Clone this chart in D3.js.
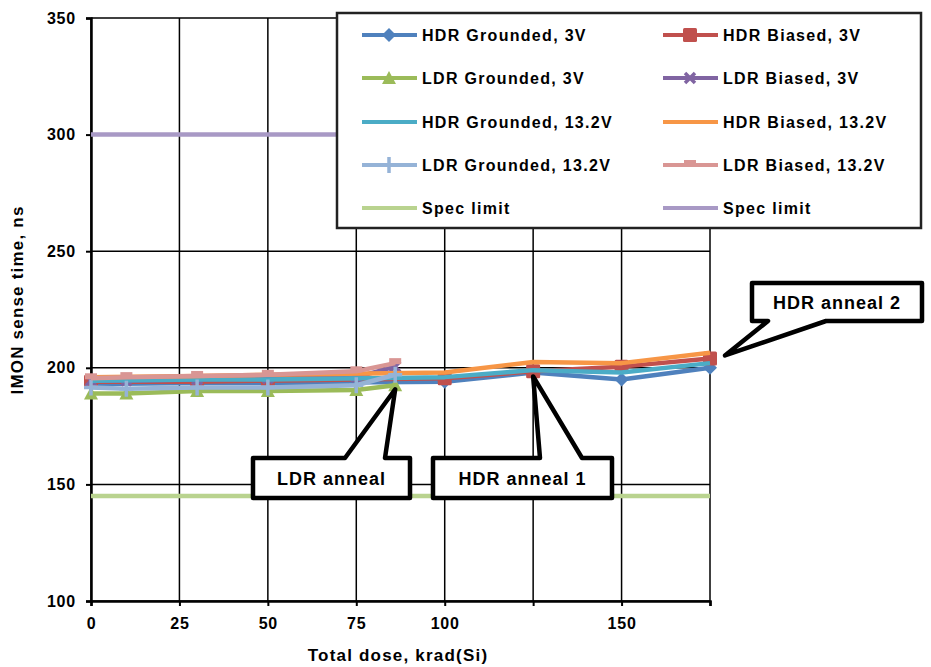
<!DOCTYPE html>
<html>
<head>
<meta charset="utf-8">
<script src="https://cdn.jsdelivr.net/npm/d3@7"></script>
<style>
  body { margin: 0; background: #fff; }
  svg { font-family: "Liberation Sans", Arial, sans-serif; font-weight: bold; }
</style>
</head>
<body>
<script>
// Data ---------------------------------------------------------------------
var ldrDose = [0, 10, 30, 50, 75, 86];
var hdrDose = [0, 30, 50, 100, 125, 150, 175];
var specDose = [0, 175];

var hdrGrounded3 = [193, 193.5, 193.5, 194, 198, 195, 200];
var hdrBiased3 = [194, 194, 194.5, 195.5, 198.5, 200.5, 204];
var ldrGrounded3 = [189, 189, 190, 190, 190.5, 192.5];
var ldrBiased3 = [194.5, 194.5, 195, 195.5, 196, 200.5];
var hdrGrounded13 = [194.5, 195, 195, 196, 199, 198, 202];
var hdrBiased13 = [196, 196.5, 197, 198, 202.5, 202, 206.5];
var ldrGrounded13 = [191.5, 191, 191.5, 191.5, 192.5, 197];
var ldrBiased13 = [195.5, 196, 196.5, 197, 198.5, 202];
var specLow = [145, 145];
var specHigh = [300, 300];

var xTickLabels = ["0", "25", "50", "75", "100", "", "150", ""];
var yTicks = [100, 150, 200, 250, 300, 350];

var series = [
  {name: "HDR Grounded, 3V", x: hdrDose, y: hdrGrounded3, color: "#4F81BD", marker: "diamond"},
  {name: "HDR Biased, 3V", x: hdrDose, y: hdrBiased3, color: "#C0504D", marker: "square"},
  {name: "LDR Grounded, 3V", x: ldrDose, y: ldrGrounded3, color: "#9BBB59", marker: "triangle"},
  {name: "LDR Biased, 3V", x: ldrDose, y: ldrBiased3, color: "#8064A2", marker: "x"},
  {name: "HDR Grounded, 13.2V", x: hdrDose, y: hdrGrounded13, color: "#4BACC6", marker: "none"},
  {name: "HDR Biased, 13.2V", x: hdrDose, y: hdrBiased13, color: "#F79646", marker: "none"},
  {name: "LDR Grounded, 13.2V", x: ldrDose, y: ldrGrounded13, color: "#95B3D7", marker: "plus"},
  {name: "LDR Biased, 13.2V", x: ldrDose, y: ldrBiased13, color: "#D99694", marker: "dash"},
  {name: "Spec limit", x: specDose, y: specLow, color: "#B9D38F", marker: "none"},
  {name: "Spec limit", x: specDose, y: specHigh, color: "#A899C5", marker: "none"}
];

// Layout -------------------------------------------------------------------
var width = 931, height = 667;
var plotLeft = 91, plotRight = 710, plotTop = 18, plotBottom = 601;

var svg = d3.select("body").append("svg")
  .attr("width", width)
  .attr("height", height);

var x = d3.scaleLinear().domain([0, 175]).range([plotLeft, plotRight]);
var y = d3.scaleLinear().domain([100, 350]).range([plotBottom, plotTop]);

// Gridlines
svg.append("g")
  .selectAll("line")
  .data(d3.range(0, 176, 25))
  .enter().append("line")
  .attr("x1", function(d) { return x(d); })
  .attr("x2", function(d) { return x(d); })
  .attr("y1", y(350))
  .attr("y2", y(100))
  .attr("stroke", "#000")
  .attr("stroke-width", 1.5);

svg.append("g")
  .selectAll("line")
  .data(yTicks)
  .enter().append("line")
  .attr("x1", x(0))
  .attr("x2", x(175))
  .attr("y1", function(d) { return y(d); })
  .attr("y2", function(d) { return y(d); })
  .attr("stroke", "#000")
  .attr("stroke-width", 1.5);

// Axes
var yAxis = d3.axisLeft(y).tickValues(yTicks).tickSize(5).tickPadding(10);
var gy = svg.append("g").attr("transform", "translate(" + plotLeft + ",0)").call(yAxis);
gy.select(".domain").attr("stroke-width", 2.5);
gy.selectAll("line").attr("stroke-width", 2);
gy.selectAll("text").style("font-size", "16px").style("font-weight", "bold")
  .style("letter-spacing", "0.8px")
  .style("font-family", "Liberation Sans, Arial, sans-serif").attr("fill", "#000");

var xAxis = d3.axisBottom(x).tickValues(d3.range(0, 176, 25))
  .tickFormat(function(d, i) { return xTickLabels[i]; })
  .tickSize(5).tickPadding(12);
var gx = svg.append("g").attr("transform", "translate(0," + plotBottom + ")").call(xAxis);
gx.select(".domain").attr("stroke-width", 2.5);
gx.selectAll("line").attr("stroke-width", 2);
gx.selectAll("text").style("font-size", "16px").style("font-weight", "bold")
  .style("letter-spacing", "0.8px")
  .style("font-family", "Liberation Sans, Arial, sans-serif").attr("fill", "#000");

svg.append("text")
  .attr("x", 398)
  .attr("y", 661)
  .attr("text-anchor", "middle")
  .style("font-size", "17px")
  .style("letter-spacing", "1.2px")
  .text("Total dose, krad(Si)");

svg.append("text")
  .attr("transform", "translate(23,300) rotate(-90)")
  .attr("text-anchor", "middle")
  .style("font-size", "17px")
  .style("letter-spacing", "1.2px")
  .text("IMON sense time, ns");

// Series -------------------------------------------------------------------
var line = d3.line()
  .x(function(d) { return x(d[0]); })
  .y(function(d) { return y(d[1]); });

function drawMarker(g, type, color, cx, cy) {
  if (type === "diamond") {
    g.append("path").attr("d", "M" + cx + "," + (cy - 7) + "L" + (cx + 7) + "," + cy +
      "L" + cx + "," + (cy + 7) + "L" + (cx - 7) + "," + cy + "Z").attr("fill", color);
  } else if (type === "square") {
    g.append("rect").attr("x", cx - 7).attr("y", cy - 7).attr("width", 14).attr("height", 14)
      .attr("rx", 1.5).attr("fill", color);
  } else if (type === "triangle") {
    g.append("path").attr("d", "M" + cx + "," + (cy - 7) + "L" + (cx + 7) + "," + (cy + 6) +
      "L" + (cx - 7) + "," + (cy + 6) + "Z").attr("fill", color);
  } else if (type === "x") {
    g.append("path").attr("d", "M" + (cx - 5) + "," + (cy - 5) + "L" + (cx + 5) + "," + (cy + 5) +
      "M" + (cx + 5) + "," + (cy - 5) + "L" + (cx - 5) + "," + (cy + 5))
      .attr("stroke", color).attr("stroke-width", 3.5);
  } else if (type === "plus") {
    g.append("path").attr("d", "M" + (cx - 7) + "," + cy + "L" + (cx + 7) + "," + cy +
      "M" + cx + "," + (cy - 8) + "L" + cx + "," + (cy + 8))
      .attr("stroke", color).attr("stroke-width", 3.5);
  } else if (type === "dash") {
    g.append("rect").attr("x", cx - 6).attr("y", cy - 5).attr("width", 12).attr("height", 6)
      .attr("fill", color);
  }
}

series.forEach(function(s) {
  var pts = s.x.map(function(d, i) { return [d, s.y[i]]; });
  var g = svg.append("g");
  g.append("path")
    .datum(pts)
    .attr("d", line)
    .attr("fill", "none")
    .attr("stroke", s.color)
    .attr("stroke-width", 4.5)
    .attr("stroke-linejoin", "round");
  pts.forEach(function(p) {
    drawMarker(g, s.marker, s.color, x(p[0]), y(p[1]));
  });
});

// Callouts -----------------------------------------------------------------
var callouts = [
  {text: "LDR anneal", x0: 253, y0: 458, w: 157, h: 40, tip: [ldrDose[5], ldrGrounded3[5]], b1: 345, b2: 385, side: "top"},
  {text: "HDR anneal 1", x0: 433, y0: 458, w: 179, h: 40, tip: [hdrDose[4], hdrGrounded3[4]], b1: 540, b2: 582, side: "top"},
  {text: "HDR anneal 2", x0: 752, y0: 283, w: 170, h: 38, tip: [hdrDose[6], hdrBiased3[6]], b1: 768, b2: 826, side: "bottom"}
];

callouts.forEach(function(c) {
  var x1 = c.x0, x2 = c.x0 + c.w, y1 = c.y0, y2 = c.y0 + c.h;
  var tx = x(c.tip[0]) + (c.side === "bottom" ? 15 : 0), ty = y(c.tip[1]) + (c.side === "bottom" ? -3 : 4);
  var d;
  if (c.side === "top") {
    d = "M" + x1 + "," + y1 + "L" + c.b1 + "," + y1 + "L" + tx + "," + ty + "L" + c.b2 + "," + y1 +
      "L" + x2 + "," + y1 + "L" + x2 + "," + y2 + "L" + x1 + "," + y2 + "Z";
  } else {
    d = "M" + x1 + "," + y1 + "L" + x2 + "," + y1 + "L" + x2 + "," + y2 + "L" + c.b2 + "," + y2 +
      "L" + tx + "," + ty + "L" + c.b1 + "," + y2 + "L" + x1 + "," + y2 + "Z";
  }
  svg.append("path")
    .attr("d", d)
    .attr("fill", "#fff")
    .attr("stroke", "#000")
    .attr("stroke-width", 4.5)
    .attr("stroke-linejoin", "round");
  svg.append("text")
    .attr("x", x1 + c.w / 2)
    .attr("y", y1 + c.h / 2 + 7)
    .attr("text-anchor", "middle")
    .style("font-size", "18px")
    .style("letter-spacing", "1px")
    .text(c.text);
});

// Legend -------------------------------------------------------------------
var legend = svg.append("g");
legend.append("rect")
  .attr("x", 337).attr("y", 13).attr("width", 584).attr("height", 215)
  .attr("fill", "#fff")
  .attr("stroke", "#222")
  .attr("stroke-width", 2.5);

var rowY = [35, 78, 122, 165, 208];
var colX = [362, 663];

series.forEach(function(s, i) {
  var col = i % 2, row = Math.floor(i / 2);
  var lx = colX[col], ly = rowY[row];
  var g = legend.append("g");
  g.append("line")
    .attr("x1", lx).attr("x2", lx + 55)
    .attr("y1", ly).attr("y2", ly)
    .attr("stroke", s.color).attr("stroke-width", 4);
  drawMarker(g, s.marker, s.color, lx + 27, ly);
  g.append("text")
    .attr("x", lx + 60)
    .attr("y", ly + 6)
    .style("font-size", "16px")
    .style("letter-spacing", "1.3px")
    .text(s.name);
});
</script>
</body>
</html>
